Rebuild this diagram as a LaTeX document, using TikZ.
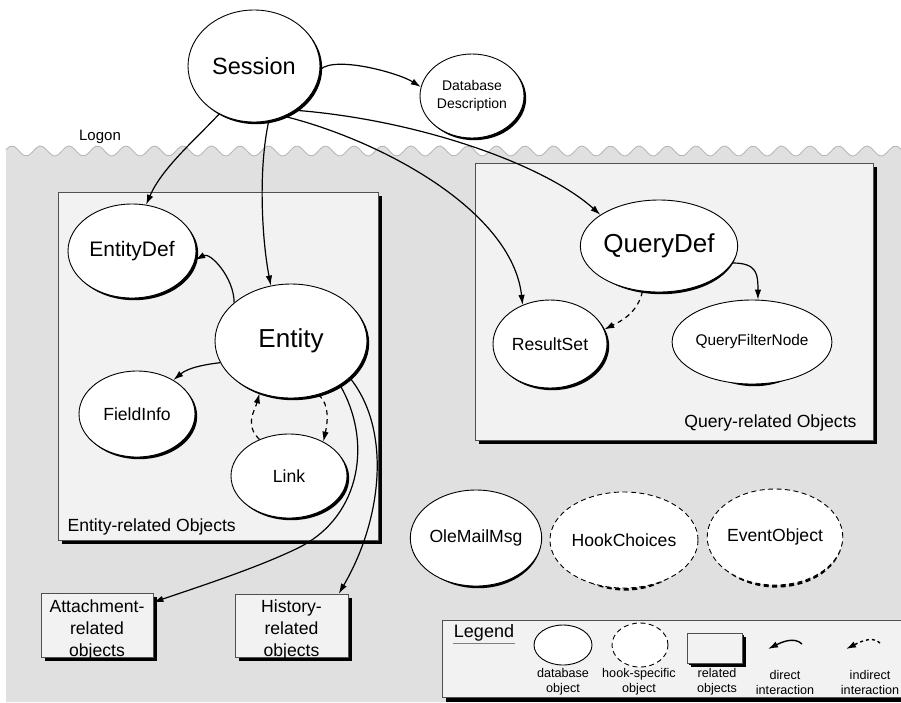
\documentclass[tikz,border=0pt]{standalone}
\usepackage{fontspec}
\setmainfont{Liberation Sans}
\usetikzlibrary{arrows.meta,shapes.geometric,shadows}

\definecolor{bggray}{HTML}{E0E0E0}
\definecolor{boxfill}{HTML}{F2F2F2}
\definecolor{boxline}{HTML}{505050}
\definecolor{wavegray}{HTML}{B4B4B4}

\begin{document}
\begin{tikzpicture}[
    x=1pt, y=-1pt,
    dbobj/.style={ellipse, draw, fill=white, line width=0.9pt, inner sep=0pt, align=center},
    hookobj/.style={dbobj, dash pattern=on 5pt off 3.5pt},
    dbshade/.style={ellipse, fill=black, inner sep=0pt, shift={(2.2,2.2)}},
    hookshade/.style={ellipse, draw=black, line width=2.4pt, dash pattern=on 5pt off 3.5pt,
        inner sep=0pt, shift={(1.4,1.4)}},
    grpbox/.style={rectangle, draw=boxline, fill=boxfill, line width=0.8pt, inner sep=0pt,
        drop shadow={shadow xshift=4pt, shadow yshift=-4pt, fill=black, opacity=1}},
    relbox/.style={grpbox},
    arrow/.style={-{Latex[length=10pt,width=6.5pt]}, line width=1.2pt},
    dasharrow/.style={arrow, dash pattern=on 5pt off 4pt},
    huge/.style={font=\fontsize{23.5pt}{28pt}\selectfont},
    big/.style={font=\fontsize{26pt}{30pt}\selectfont},
    mid/.style={font=\fontsize{21pt}{25pt}\selectfont},
    norm/.style={font=\fontsize{17.6pt}{21.7pt}\selectfont, align=center},
    small/.style={font=\fontsize{14pt}{18pt}\selectfont},
    tiny/.style={font=\fontsize{12.6pt}{15pt}\selectfont, align=center}
]
\useasboundingbox (0,0) rectangle (901,702);
\fill[white] (0,0) rectangle (901,702);

% logon boundary
\fill[bggray] (6,702) -- (6,151)
    -- plot[domain=6:901, samples=240, smooth] (\x,{151-5*cos(12.6316*(\x-12))})
    -- (901,702) -- cycle;
\draw[wavegray, line width=0.8pt] plot[domain=6:901, samples=240, smooth] (\x,{151-5*cos(12.6316*(\x-12))});
\node[font=\fontsize{15pt}{18pt}\selectfont] (logon) at (100,137) {Logon};

% object groups
\node[grpbox, minimum width=320pt, minimum height=348pt] (entbox) at (218,366) {};
\node[grpbox, minimum width=398pt, minimum height=277pt] (qrybox) at (674,301.5) {};
\node[norm, anchor=west] (entlbl) at (64,527) {Entity-related Objects};
\node[norm, anchor=east] (qrylbl) at (860,423) {Query-related Objects};

\node[relbox, minimum width=112pt, minimum height=64pt] (attach) at (97,625) {};
\node[norm] (attachtxt) at (97,630) {Attachment-\\related\\objects};
\node[relbox, minimum width=113pt, minimum height=63pt] (hist) at (291.5,625.5) {};
\node[norm] (histtxt) at (291.5,630) {History-\\related\\objects};

% shadows of the objects
\foreach \pos/\w/\h in {{(254,66)}/132/112, {(472,96)}/104/84, {(132,251)}/128/94,
    {(291,341)}/152/114, {(137,414)}/116/86, {(289,476)}/116/84, {(659,246)}/152/92,
    {(550,344)}/114/88, {(752,342)}/120/84, {(476,538)}/126/96, {(563,645)}/58/40}
  \node[dbshade, minimum width=\w pt, minimum height=\h pt] at \pos {};
\foreach \pos/\w/\h in {{(624,540)}/128/96, {(775,537)}/130/96, {(640,645)}/56/44}
  \node[hookshade, minimum width=\w pt, minimum height=\h pt] at \pos {};

% database objects
\node[dbobj, huge, minimum width=132pt, minimum height=112pt] (session) at (254,66) {Session};
\node[dbobj, small, minimum width=104pt, minimum height=84pt] (dbdesc) at (472,96) {Database\\Description};
\node[dbobj, mid, minimum width=128pt, minimum height=94pt] (entdef) at (132,251) {EntityDef};
\node[dbobj, big, minimum width=152pt, minimum height=114pt] (entity) at (291,341) {Entity};
\node[dbobj, norm, minimum width=116pt, minimum height=86pt] (fieldinfo) at (137,414) {FieldInfo};
\node[dbobj, norm, minimum width=116pt, minimum height=84pt] (link) at (289,476) {Link};
\node[dbobj, big, minimum width=152pt, minimum height=92pt] (querydef) at (659,246) {QueryDef};
\node[dbobj, norm, minimum width=114pt, minimum height=88pt] (resultset) at (550,344) {ResultSet};
\node[dbobj, font=\fontsize{15.4pt}{18pt}\selectfont, minimum width=120pt, minimum height=84pt] (qfnode) at (752,342) {QueryFilterNode};
\node[dbobj, norm, minimum width=126pt, minimum height=96pt] (olemail) at (476,538) {OleMailMsg};
\node[hookobj, norm, minimum width=128pt, minimum height=96pt] (hookch) at (624,540) {HookChoices};
\node[hookobj, norm, minimum width=130pt, minimum height=96pt] (eventobj) at (775,537) {EventObject};

% interactions
\draw[arrow] (session.-3) .. controls +(15,-14) and +(-22,-14) .. (dbdesc.170);
\draw[arrow] (session.234) .. controls (195,140) and (162,168) .. (entdef.73);
\draw[arrow] (session.285) .. controls (258,170) and (262,240) .. (entity.110);
\draw[arrow] (session.-59) .. controls (380,140) and (512,210) .. (resultset.125);
\draw[arrow] (session.-47) .. controls (420,120) and (545,165) .. (querydef.152);
\draw[arrow] (entity.146) .. controls +(0,-25) and +(15,-8) .. (entdef.-8);
\draw[arrow] (entity.197) .. controls +(-25,3) and +(12,-10) .. (fieldinfo.43);
\draw[dasharrow] (link.129) .. controls +(-15,-15) and +(-5,18) .. (entity.239);
\draw[dasharrow] (entity.297) .. controls +(12,10) and +(4,-18) .. (link.45);
\draw[arrow] (entity.-42) .. controls (372,440) and (362,515) .. (300,547)
    .. controls (260,567) and (195,588) .. (attach.22);
\draw[arrow] (entity.-32) .. controls (392,430) and (382,520) .. (hist.34);
\draw[arrow] (querydef.-13) .. controls +(25,0) and +(0,-25) .. (qfnode.82);
\draw[dasharrow] (querydef.250) .. controls +(-5,22) and +(16,-8) .. (resultset.15);

% legend
\fill[black] (446,697) rectangle (901,702);
\fill[boxfill] (442,620) rectangle (901,697);
\draw[boxline, line width=0.8pt] (901,620) -- (442,620) -- (442,697) -- (901,697);
\node[font=\fontsize{18pt}{20pt}\selectfont, inner sep=1pt] (legtitle) at (484,633) {Legend};
\draw[gray, line width=0.8pt] ([yshift=-1pt]legtitle.south west) -- ([yshift=-1pt]legtitle.south east);
\node[dbobj, minimum width=58pt, minimum height=40pt] (legdb) at (563,645) {};
\node[hookobj, minimum width=56pt, minimum height=44pt] (leghook) at (640,645) {};
\node[grpbox, minimum width=55pt, minimum height=30pt,
    drop shadow={shadow xshift=2pt, shadow yshift=-2pt, fill=black, opacity=1}] (legrel) at (714.5,648) {};
\coordinate (dirA) at (802,644);
\coordinate (dirB) at (768,649);
\coordinate (indA) at (880,643);
\coordinate (indB) at (846,649);
\draw[arrow, line width=1.4pt] (dirA) .. controls +(-8,-8) and +(12,-6) .. (dirB);
\draw[dasharrow, line width=1.4pt, dash pattern=on 3pt off 3pt] (indA) .. controls +(-8,-8) and +(12,-6) .. (indB);
\node[tiny] (legdblbl) at (563,682) {database\\object};
\node[tiny] (leghooklbl) at (639,682) {hook-specific\\object};
\node[tiny] (legrellbl) at (717,682) {related\\objects};
\node[tiny] (legdirlbl) at (785,682) {direct\\interaction};
\node[tiny] (legindlbl) at (870,682) {indirect\\interaction};
\end{tikzpicture}
\end{document}
